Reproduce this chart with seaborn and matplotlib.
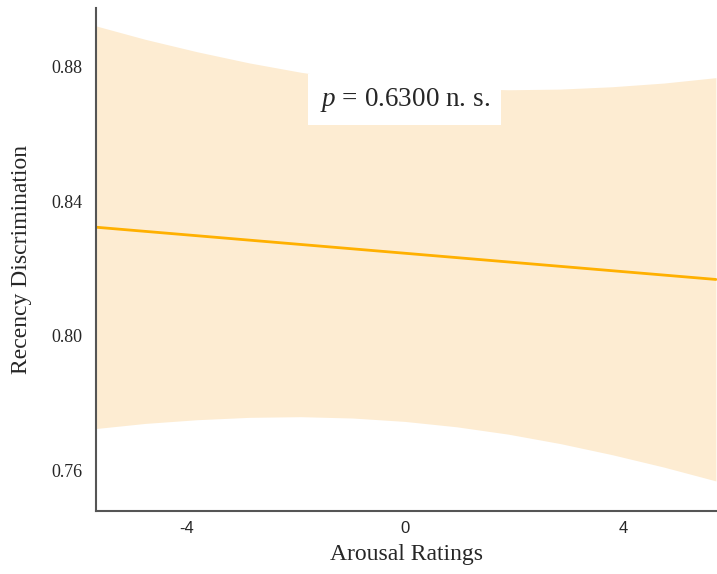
import matplotlib
matplotlib.use("Agg")
import matplotlib.pyplot as plt
import seaborn as sns
import pandas as pd

# values
arousal = [-5.7, -4.75, -3.8, -2.85, -1.9, -0.95, 0.0, 0.95, 1.9, 2.85, 3.8, 4.75, 5.7]
fit = [0.8324, 0.8311, 0.8298, 0.8285, 0.8272, 0.8259, 0.8246,
       0.8233, 0.8220, 0.8207, 0.8194, 0.8181, 0.8168]
ci_upper = [0.8924, 0.8882, 0.8845, 0.8812, 0.8784, 0.8762, 0.8746,
            0.8736, 0.8732, 0.8734, 0.8741, 0.8752, 0.8768]
ci_lower = [0.7724, 0.7740, 0.7751, 0.7758, 0.7760, 0.7756, 0.7746,
            0.7730, 0.7708, 0.7680, 0.7647, 0.7610, 0.7569]
y_ticks = [0.76, 0.80, 0.84, 0.88]
x_ticks = [-4, 0, 4]
p_label = "$\\it{p}$ = 0.6300 n. s."

df = pd.DataFrame({"Arousal Ratings": arousal, "fit": fit,
                   "lo": ci_lower, "hi": ci_upper})

sns.set_theme(style="white")
plt.rcParams["font.family"] = ["Liberation Serif", "DejaVu Serif"]
plt.rcParams["mathtext.fontset"] = "custom"
plt.rcParams["mathtext.it"] = "Liberation Serif:italic"
plt.rcParams["mathtext.rm"] = "Liberation Serif"

fig = plt.figure(figsize=(7.17, 5.74), dpi=100)
ax = fig.add_axes([0.134, 0.110, 0.866, 0.876])

ax.fill_between(df["Arousal Ratings"], df["lo"], df["hi"],
                color="#FDECD2", linewidth=0)
sns.lineplot(data=df, x="Arousal Ratings", y="fit", color="#FFB000",
             linewidth=2, ax=ax)

ax.set_xlim(-5.65, 5.72)
ax.set_ylim(0.748, 0.8975)
ax.set_xticks(x_ticks)
ax.set_xticklabels([str(t) for t in x_ticks], family="Liberation Sans", fontsize=12)
ax.set_yticks(y_ticks)
ax.set_yticklabels([f"{t:.2f}" for t in y_ticks], fontsize=13)
ax.tick_params(axis="y", length=0, pad=10)
ax.tick_params(axis="x", length=0, pad=7)

ax.set_xlabel("Arousal Ratings", fontsize=17, labelpad=6)
ax.set_ylabel("Recency Discrimination", fontsize=17, labelpad=14)

sns.despine(ax=ax)
for side in ["left", "bottom"]:
    ax.spines[side].set_color("#555555")
    ax.spines[side].set_linewidth(1.5)

ax.text(0.0, 0.8703, p_label, fontsize=19.5, ha="center", va="center",
        bbox=dict(facecolor="white", edgecolor="none", pad=8))

fig.savefig("out.png", dpi=100)
